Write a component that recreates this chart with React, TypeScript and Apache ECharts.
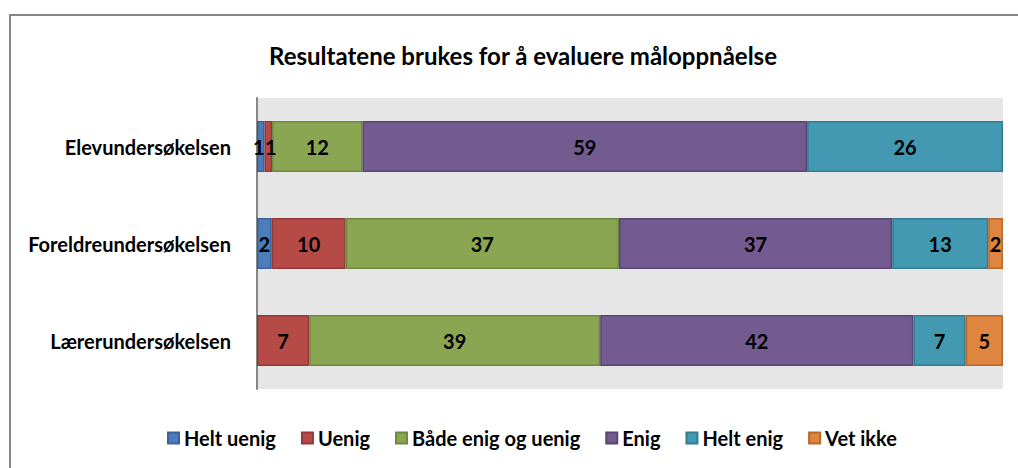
import React, { useEffect, useRef } from "react";
import * as echarts from "echarts";

const categories = ["Elevundersøkelsen", "Foreldreundersøkelsen", "Lærerundersøkelsen"];
const seriesNames = ["Helt uenig", "Uenig", "Både enig og uenig", "Enig", "Helt enig", "Vet ikke"];
const heltUenig = [1, 2, 0];
const uenig = [1, 10, 7];
const baade = [12, 37, 39];
const enig = [59, 37, 42];
const heltEnig = [26, 13, 7];
const vetIkke = [0, 2, 5];

const fills = ["#4A7DBA", "#B64A47", "#8BA652", "#735A8F", "#4399B1", "#DE853F"];
const borders = ["#3A6499", "#943B39", "#6C8A3C", "#5A4672", "#327D91", "#B8692C"];

const FONT = "Lato";

export default function App() {
  const ref = useRef<HTMLDivElement>(null);
  useEffect(() => {
    if (!ref.current) return;
    const chart = echarts.init(ref.current, undefined, { renderer: "svg" });
    const all = [heltUenig, uenig, baade, enig, heltEnig, vetIkke];
    const sums = categories.map((_, i) => all.reduce((s, arr) => s + arr[i], 0));
    const series = all.map((arr, si) => ({
      name: seriesNames[si],
      type: "bar",
      stack: "total",
      barWidth: 51,
      data: arr.map((v, i) => {
        const value = v ? (v / sums[i]) * 100 : null;
        // nudge the two tiny adjacent labels on the first bar apart
        if (i === 0 && (si === 0 || si === 1)) {
          return { value, label: { offset: [si === 0 ? -2 : 2.5, 0] } };
        }
        return value;
      }),
      itemStyle: { color: fills[si], borderColor: borders[si], borderWidth: 1.5 },
      label: {
        show: true,
        position: "inside",
        color: "#000",
        fontFamily: FONT,
        fontWeight: "bold",
        fontSize: 20,
        formatter: (p: any) => (arr[p.dataIndex] ? String(arr[p.dataIndex]) : ""),
      },
    }));
    chart.setOption({
      animation: false,
      backgroundColor: "#ffffff",
      title: {
        text: "Resultatene brukes for å evaluere måloppnåelse",
        left: 518,
        top: 38,
        textAlign: "center",
        textStyle: { fontFamily: FONT, fontWeight: "bold", fontSize: 24, color: "#000" },
      },
      graphic: [
        {
          type: "rect",
          shape: { x: 10, y: 15, width: 1030, height: 480 },
          style: { fill: "none", stroke: "#868686", lineWidth: 2 },
          silent: true,
        },
      ],
      legend: {
        bottom: 15,
        left: 162,
        itemWidth: 11,
        itemHeight: 11,
        itemGap: 25,
        icon: "rect",
        textStyle: { fontFamily: FONT, fontWeight: "bold", fontSize: 20, color: "#000" },
        data: seriesNames,
      },
      grid: {
        left: 257,
        right: 15,
        top: 98,
        bottom: 79,
        show: true,
        backgroundColor: "#E6E6E6",
        borderWidth: 0,
      },
      xAxis: {
        type: "value",
        min: 0,
        max: 100,
        show: false,
      },
      yAxis: {
        type: "category",
        inverse: true,
        data: categories,
        axisLine: { show: true, lineStyle: { color: "#868686", width: 2 } },
        axisTick: { show: false },
        axisLabel: {
          margin: 26,
          color: "#000",
          fontFamily: FONT,
          fontWeight: "bold",
          fontSize: 20,
        },
      },
      series,
    });
    return () => chart.dispose();
  }, []);
  return (
    <div
      ref={ref}
      style={{ position: "fixed", left: 0, top: 0, width: 1018, height: 468 }}
    />
  );
}
